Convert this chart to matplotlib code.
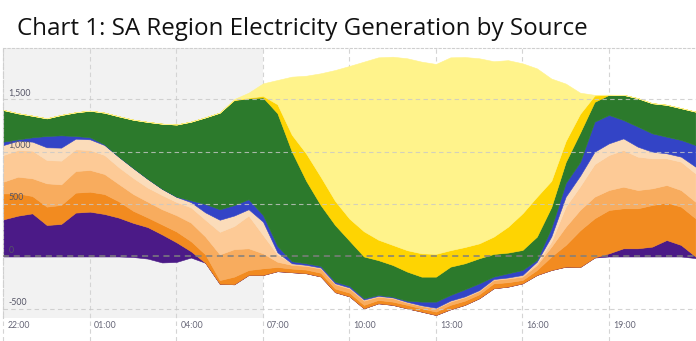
import numpy as np
import matplotlib
matplotlib.use("Agg")
import matplotlib.pyplot as plt
from matplotlib.transforms import blended_transform_factory

# ---- data (MW), half-hourly from 22:00 -----------------------------------
hours = np.arange(49) * 0.5          # hours after 22:00
tick_hours = [0, 3, 6, 9, 12, 15, 18, 21]
tick_labels = ["22:00", "01:00", "04:00", "07:00", "10:00", "13:00", "16:00", "19:00"]
y_ticks = [-500, 0, 500, 1000, 1500]
y_tick_labels = ["-500", "0", "500", "1,000", "1,500"]

# net export / load offset (stack baseline)
baseline = [0, 0, 0, 0, 0, 0, 0, 0, 0, -5, -20, -57, -52, -10, -60, -260, -265,
            -176, -176, -140, -150, -160, -190, -340, -380, -494, -446, -461, -494,
            -525, -557, -503, -461, -398, -303, -287, -256, -176, -129, -97, -100,
            -10, 0, 0, 0, 0, 0, 0, -15]
purple = [354, 389, 411, 300, 310, 418, 427, 405, 370, 325, 300, 267, 187, 60, 0,
          0, 0, 0, 0, 0, 0, 0, 0, 0, 0, 0, 0, 0, 0, 0, 0, 0, 0, 0, 0, 0, 0, 0, 0,
          0, 0, 0, 30, 78, 78, 94, 157, 110, 15]
dark_orange = [247, 212, 165, 175, 181, 190, 190, 190, 155, 115, 92, 95, 103, 96, 80,
               35, 73, 47, 63, 40, 35, 35, 35, 35, 35, 33, 32, 31, 33, 31, 32, 42, 40,
               38, 47, 42, 32, 47, 129, 207, 350, 374, 413, 381, 381, 396, 356, 365, 364]
mid_orange = [112, 159, 169, 222, 196, 206, 207, 191, 165, 160, 150, 145, 155, 177, 170,
              245, 262, 207, 143, 50, 35, 35, 40, 40, 40, 40, 31, 32, 21, 23, 31, 31, 32,
              30, 32, 35, 32, 48, 94, 174, 195, 206, 190, 206, 174, 159, 168, 158, 158]
light_orange = [254, 254, 263, 222, 226, 207, 190, 181, 160, 153, 134, 135, 126, 145, 160,
                215, 220, 312, 175, 70, 15, 10, 10, 10, 10, 11, 8, 8, 8, 6, 6, 10, 9,
                10, 9, 10, 16, 16, 47, 191, 225, 310, 334, 349, 318, 286, 254, 270, 270]
peach = [95, 89, 86, 121, 124, 101, 102, 95, 100, 95, 84, 60, 49, 50, 70,
         115, 100, 60, 127, 20, 0, 0, 0, 0, 0, 0, 0, 0, 0, 0, 0, 0, 0,
         0, 0, 0, 0, 15, 49, 95, 100, 118, 111, 111, 95, 63, 48, 48, 64]
blue = [32, 13, 41, 108, 117, 26, 19, 6, 0, 0, 0, 0, 2, 17, 80,
        100, 100, 95, 63, 60, 20, 15, 15, 15, 15, 12, 8, 7, 11, 35, 58, 53, 67,
        64, 23, 40, 47, 17, 80, 130, 130, 286, 270, 175, 191, 175, 158, 159, 206]
green = [301, 248, 206, 168, 194, 225, 254, 302, 385, 460, 542, 620, 687, 749, 825,
         920, 1000, 961, 1120, 1265, 1045, 785, 580, 540, 430, 398, 332, 302, 277, 238,
         238, 270, 248, 239, 216, 197, 191, 222, 200, 200, 280, 189, 192, 240, 271, 287,
         304, 303, 318]
gold = [0, 0, 0, 0, 0, 0, 0, 0, 0, 0, 0, 0, 0, 0, 0,
        0, 2, 6, 15, 85, 160, 260, 270, 230, 210, 240, 195, 191, 204, 222, 217, 157,
        155, 142, 165, 247, 349, 380, 250, 200, 180, 60, 0, 0, 0, 0, 0, 0, 0]
yellow = [0, 0, 0, 0, 0, 0, 0, 0, 0, 0, 0, 0, 0, 0, 0,
          0, 8, 48, 119, 231, 553, 742, 985, 1246, 1455, 1616, 1737, 1793, 1828, 1826,
          1809, 1837, 1810, 1763, 1671, 1586, 1429, 1223, 975, 547, 200, 7, 2, 0, 0, 0,
          0, 0, 0]

layers = [purple, dark_orange, mid_orange, light_orange, peach, blue, green, gold, yellow]
colors = ["#4b1a87", "#f28b20", "#f8ac5e", "#fdca96", "#fbdcba", "#3344c6",
          "#2c7a2c", "#fed402", "#fff38b"]

# ---- figure ---------------------------------------------------------------
W, H = 696, 341
fig = plt.figure(figsize=(W / 100, H / 100), dpi=100)
fig.patch.set_facecolor("white")
ax = fig.add_axes([3 / W, 23 / H, 693 / W, 270 / H])
ax.set_xlim(-0.017, 24.02)
ax.set_ylim(-586, 1986)
ax.set_facecolor("white")

# shaded "past" region
ax.axvspan(-0.017, 9, color="#f2f2f2", zorder=0, lw=0)

# vertical grid
for th in tick_hours:
    ax.axvline(th, ymin=-0.085, ymax=1, color="#d4d4d4", lw=0.8, ls=(0, (4, 3)),
               zorder=0.5, clip_on=False)

lower = np.array(baseline, dtype=float)
for vals, col in zip(layers, colors):
    upper = lower + np.array(vals, dtype=float)
    ax.fill_between(hours, lower, upper, color=col, lw=0.4, edgecolor=col, zorder=2)
    lower = upper

# horizontal grid on top
for yv in y_ticks:
    if yv == 0:
        ax.axhline(0, color="#7f7f7f", lw=1.1, ls=(0, (4, 3)), zorder=4)
    else:
        ax.axhline(yv, color="#c8c8c8", lw=0.8, ls=(0, (4, 3)), alpha=0.8, zorder=3)

for yv, lab in zip(y_ticks, y_tick_labels):
    ax.annotate(lab, xy=(0.17, yv), xytext=(0, 6), textcoords="offset pixels",
                ha="left", va="center", fontsize=6.3, color="#555566",
                family="Lato", zorder=5)

trans = blended_transform_factory(ax.transData, ax.transAxes)
for th, lab in zip(tick_hours, tick_labels):
    ax.annotate(lab, xy=(th, 0), xycoords=trans, xytext=(4, -7),
                textcoords="offset pixels", ha="left", va="center",
                fontsize=6.3, color="#666677", family="Lato", annotation_clip=False)

ax.set_xticks([])
ax.set_yticks([])
for s in ["right", "bottom"]:
    ax.spines[s].set_visible(False)
for s in ["left", "top"]:
    ax.spines[s].set_color("#cfcfcf")
    ax.spines[s].set_linestyle((0, (2, 2)))
    ax.spines[s].set_linewidth(0.8)

# title fitted to reference width
title = "Chart 1: SA Region Electricity Generation by Source"
t = fig.text(17 / W, 1 - 35 / H, title, ha="left", va="baseline",
             fontsize=16, family="Open Sans", color="#111111")
fig.canvas.draw()
bb = t.get_window_extent()
target = 570
t.set_fontsize(16 * target / bb.width)

fig.savefig("out.png", dpi=100, facecolor="white")
